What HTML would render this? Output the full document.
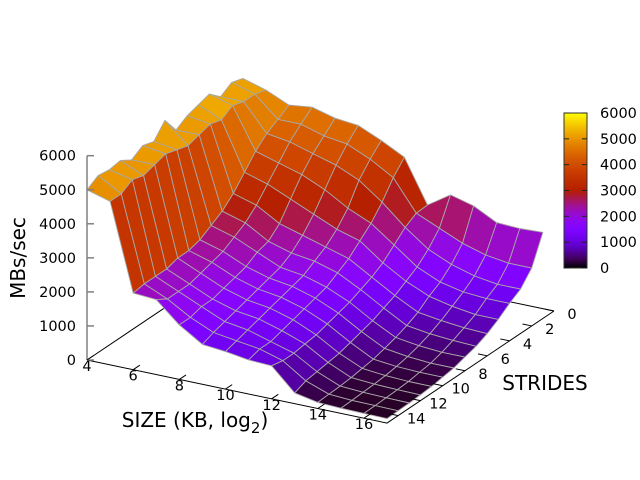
<!DOCTYPE html>
<html><head><meta charset="utf-8">
<style>
html,body{margin:0;padding:0;background:#fff;}
svg{display:block;font-family:"DejaVu Sans","Liberation Sans",sans-serif;}
</style></head>
<body>
<svg id="chart" width="640" height="480" viewBox="0 0 640 480" xmlns="http://www.w3.org/2000/svg">
<defs>
<linearGradient id="cbgrad" x1="0" y1="1" x2="0" y2="0"></linearGradient>
</defs>
<g id="base"></g>
<g id="surface"></g>
<g id="axes"></g>
<g id="colorbar"></g>
<text x="0" y="0" transform="translate(25,258) rotate(-90)" text-anchor="middle" font-size="20">MBs/sec</text>
<text x="195" y="427" text-anchor="middle" font-size="20">SIZE (KB, log<tspan font-size="15" dy="6">2</tspan><tspan dy="-6">)</tspan></text>
<text x="545" y="390" text-anchor="middle" font-size="20">STRIDES</text>
</svg>
<script>
const sizes = [4,5,6,7,8,9,10,11,12,13,14,15,16,17];
const strides = [1,2,3,4,5,6,7,8,9,10,11,12,13,14,15];
const s1  = [5200,5000,4700,4780,4600,4530,4230,3880,2620,3060,2880,2530,2500,2530];
const s2  = [5300,5100,4500,4500,4300,4200,3900,3500,2600,2300,2000,1800,1700,1700];
const s3  = [5100,5100,4300,4200,4000,3800,3500,3000,2400,1900,1600,1400,1300,1300];
const s4  = [5400,5200,4000,3800,3600,3300,2900,2600,2100,1600,1300,1150,1100,1100];
const s5  = [5300,5000,3600,3400,3100,2800,2500,2300,1800,1400,1100,950,850,850];
const s6  = [5200,5100,3200,3000,2600,2400,2200,2000,1600,1200,850,750,680,650];
const s7  = [5000,5000,2900,2700,2300,2100,2000,1800,1450,1050,680,580,530,500];
const s8  = [5500,4900,2700,2500,2200,1900,1800,1600,1300,900,550,450,400,400];
const s9  = [5100,5000,2500,2300,2000,1800,1700,1500,1200,800,450,350,300,300];
const s10 = [5200,5100,2400,2200,1900,1700,1600,1400,1100,700,350,280,250,250];
const s11 = [5000,5000,2400,2100,1800,1600,1500,1300,1000,600,300,230,200,200];
const s12 = [5200,4900,2300,2000,1700,1500,1400,1200,950,550,250,200,180,170];
const s13 = [5150,5000,2300,2000,1700,1400,1300,1100,900,500,220,180,160,150];
const s14 = [5200,4800,2300,2000,1600,1300,1200,1100,900,450,200,160,150,140];
const s15 = [5000,4800,2250,2200,1600,1170,1100,1000,970,315,180,150,140,130];
const rows = [s1,s2,s3,s4,s5,s6,s7,s8,s9,s10,s11,s12,s13,s14,s15];
const zTicks = [0,1000,2000,3000,4000,5000,6000];
const xTicks = [4,6,8,10,12,14,16];
const yTicks = [0,2,4,6,8,10,12,14];
const cbTicks = [0,1000,2000,3000,4000,5000,6000];

const NS = "http://www.w3.org/2000/svg";
const SMIN=4, SMAX=17, TMAX=15, ZMAX=6000;
function P(s,t,z){
  return [87 + (s-SMIN)*23.08 + (TMAX-t)*11.13,
          360 + (s-SMIN)*4.85 - (TMAX-t)*7.47 - z*0.03405];
}
function pal(v){
  let x=Math.max(0,Math.min(1,v/ZMAX));
  let r=Math.sqrt(x), g=x*x*x, b=Math.sin(2*Math.PI*x);
  b=Math.max(0,Math.min(1,b));
  return "rgb("+Math.round(r*255)+","+Math.round(g*255)+","+Math.round(b*255)+")";
}
function mk(tag,attrs,parent){
  const e=document.createElementNS(NS,tag);
  for(const k in attrs) e.setAttribute(k,attrs[k]);
  parent.appendChild(e); return e;
}
function pts(a){return a.map(p=>p[0].toFixed(1)+","+p[1].toFixed(1)).join(" ");}

const base=document.getElementById("base");
const c00=P(SMIN,0,0), c10=P(SMAX,0,0), c01=P(SMIN,TMAX,0), c11=P(SMAX,TMAX,0);
let bl=mk("polyline",{points:pts([c10,c00,c01]),fill:"none",stroke:"#000","stroke-width":1},base);



const surf=document.getElementById("surface");
const quads=[];
for(let i=0;i<strides.length-1;i++){
  for(let j=0;j<sizes.length-1;j++){
    const a=[sizes[j],strides[i],rows[i][j]], b=[sizes[j+1],strides[i],rows[i][j+1]],
          c=[sizes[j+1],strides[i+1],rows[i+1][j+1]], d=[sizes[j],strides[i+1],rows[i+1][j]];
    const mean=(a[2]+b[2]+c[2]+d[2])/4;
    const depth=P((a[0]+b[0])/2,(a[1]+d[1])/2,0)[1];
    quads.push({p:[P(...a),P(...b),P(...c),P(...d)],v:mean,depth:depth});
  }
}
quads.sort((q1,q2)=>q1.depth-q2.depth);
for(const q of quads){
  const e=mk("polygon",{points:pts(q.p),fill:pal(q.v),stroke:"#a8a8a8","stroke-width":0.9,"stroke-linejoin":"round"},surf);
  
  
}

const ax=document.getElementById("axes");
let fl=mk("polyline",{points:pts([c01,c11,c10]),fill:"none",stroke:"#000","stroke-width":1},ax);


const zt=P(SMIN,TMAX,0), ztop=P(SMIN,TMAX,ZMAX);
let zl=mk("line",{x1:zt[0],y1:zt[1],x2:ztop[0],y2:ztop[1],stroke:"#808080","stroke-width":1.5},ax);


for(const v of zTicks){
  const p=P(SMIN,TMAX,v);
  let t=mk("line",{x1:p[0],y1:p[1],x2:p[0]+7,y2:p[1],stroke:"#808080","stroke-width":1.5},ax);
  
  
  let l=mk("text",{x:p[0]-11,y:p[1]+5,"text-anchor":"end","font-size":14.5},ax);
  l.textContent=v;
  
  
}
for(const v of xTicks){
  const p=P(v,TMAX,0), q=P(v,TMAX-0.6,0);
  let t=mk("line",{x1:p[0],y1:p[1],x2:q[0],y2:q[1],stroke:"#000","stroke-width":1},ax);
  
  
  let l=mk("text",{x:p[0],y:p[1]+11,"text-anchor":"middle","font-size":14.5},ax);
  l.textContent=v;
  
  
}
for(const v of yTicks){
  const p=P(SMAX,v,0), q=P(SMAX-0.4,v,0);
  let t=mk("line",{x1:p[0],y1:p[1],x2:q[0],y2:q[1],stroke:"#000","stroke-width":1},ax);
  
  
  let l=mk("text",{x:p[0]+18,y:p[1]+8,"text-anchor":"middle","font-size":14.5},ax);
  l.textContent=v;
  
  
}

const grad=document.getElementById("cbgrad");
for(let k=0;k<=20;k++){
  mk("stop",{offset:(k/20),"stop-color":pal(k/20*ZMAX)},grad);
}
const cb=document.getElementById("colorbar");
const cbX=564, cbW=23, cbTop=113, cbBot=268;
let r=mk("rect",{x:cbX,y:cbTop,width:cbW,height:cbBot-cbTop,fill:"url(#cbgrad)",stroke:"#333","stroke-width":1},cb);


for(const v of cbTicks){
  const y=cbBot-(v/ZMAX)*(cbBot-cbTop);
  let t1=mk("line",{x1:cbX,y1:y,x2:cbX+5,y2:y,stroke:"#222","stroke-width":1},cb);
  
  
  let t2=mk("line",{x1:cbX+cbW-5,y1:y,x2:cbX+cbW,y2:y,stroke:"#222","stroke-width":1},cb);
  
  
  let l=mk("text",{x:600,y:y+5,"text-anchor":"start","font-size":14.5},cb);
  l.textContent=v;
  
  
}
</script>
</body></html>
